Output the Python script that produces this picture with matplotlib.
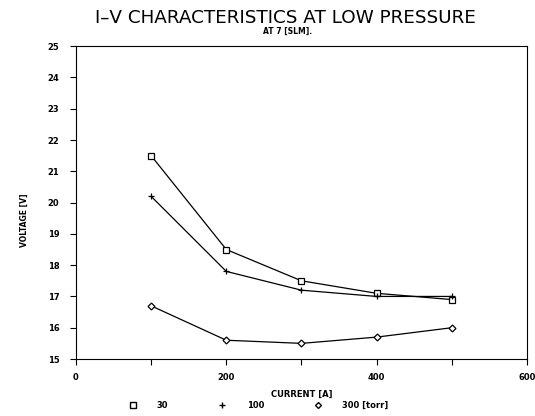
import matplotlib
matplotlib.use("Agg")
import matplotlib.pyplot as plt
from matplotlib.lines import Line2D

# current [A]
current = [100, 200, 300, 400, 500]
# voltage [V] per pressure
v_30 = [21.5, 18.5, 17.5, 17.1, 16.9]
v_100 = [20.2, 17.8, 17.2, 17.0, 17.0]
v_300 = [16.7, 15.6, 15.5, 15.7, 16.0]
pressures = ['30', '100', '300 [torr]']

fig = plt.figure(figsize=(5.35, 4.16), dpi=100)
ax = fig.add_axes([0.142, 0.137, 0.843, 0.752])

ax.plot(current, v_30, color='k', lw=0.9, marker='s', ms=4.5, mfc='white', mec='k', mew=0.9)
ax.plot(current, v_100, color='k', lw=0.9, marker='+', ms=5, mec='k', mew=0.9)
ax.plot(current, v_300, color='k', lw=0.9, marker='D', ms=3.5, mfc='white', mec='k', mew=0.9)

ax.set_xlim(0, 600)
ax.set_ylim(15, 25)
ax.set_xticks(range(0, 601, 100))
ax.set_xticklabels(['0', '', '200', '', '400', '', '600'])
ax.set_yticks(range(15, 26))
for lab in ax.get_xticklabels() + ax.get_yticklabels():
    lab.set_fontsize(6)
    lab.set_fontweight('bold')
ax.tick_params(direction='out', length=4, width=0.8, pad=6)
ax.tick_params(axis='y', pad=8)
for s in ax.spines.values():
    s.set_linewidth(0.8)

ax.set_xlabel('CURRENT [A]', fontsize=6, fontweight='bold', labelpad=6)
fig.text(0.045, 0.47, 'VOLTAGE [V]', rotation=90, fontsize=5.5, fontweight='bold',
         ha='center', va='center')

fig.text(0.533, 0.957, 'I\u2013V CHARACTERISTICS AT LOW PRESSURE', fontsize=13.2,
         ha='center', va='center', color='k')
fig.text(0.537, 0.925, 'AT 7 [SLM].', fontsize=5.5, fontweight='bold', ha='center', va='center')

handles = [Line2D([], [], ls='', marker='s', ms=4, mfc='white', mec='k'),
           Line2D([], [], ls='', marker='+', ms=5, mec='k'),
           Line2D([], [], ls='', marker='D', ms=3, mfc='white', mec='k')]
fig.legend(handles, pressures, loc='center left', bbox_to_anchor=(0.24, 0.026), ncol=3,
           frameon=False, prop={'size': 6, 'weight': 'bold'}, columnspacing=6,
           handlelength=1, handletextpad=2.4, borderpad=0, borderaxespad=0)

fig.savefig('out.png', dpi=100)
